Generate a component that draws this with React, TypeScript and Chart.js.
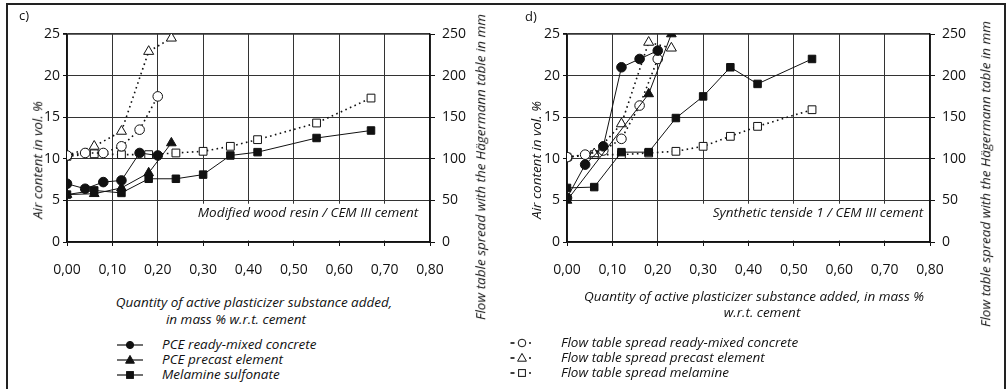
import React, { useEffect, useRef } from "react";
import { Chart, registerables } from "chart.js";

Chart.register(...registerables);

type Pt = [number, number];

// ---------- axes ----------
const xTickValues = [0, 0.1, 0.2, 0.3, 0.4, 0.5, 0.6, 0.7, 0.8];
const airTicks = [0, 5, 10, 15, 20, 25];
const flowTicks = [0, 50, 100, 150, 200, 250];

// ---------- panel c: Modified wood resin / CEM III cement ----------
// air content in vol. % (left axis)
const cPceReady: Pt[] = [[0, 7.0], [0.04, 6.4], [0.08, 7.2], [0.12, 7.4], [0.16, 10.7], [0.2, 10.4]];
const cPcePrecast: Pt[] = [[0, 5.7], [0.06, 5.8], [0.12, 6.5], [0.18, 8.3], [0.23, 11.9]];
const cMelamine: Pt[] = [[0, 5.7], [0.06, 6.2], [0.12, 5.9], [0.18, 7.6], [0.24, 7.6], [0.3, 8.1], [0.36, 10.4], [0.42, 10.8], [0.55, 12.5], [0.67, 13.4]];
// flow table spread in mm (right axis)
const cFlowReady: Pt[] = [[0, 104], [0.04, 107], [0.08, 107], [0.12, 115], [0.16, 135], [0.2, 175]];
const cFlowPrecast: Pt[] = [[0, 104], [0.06, 115], [0.12, 133], [0.18, 229], [0.23, 245]];
const cFlowMelamine: Pt[] = [[0, 103], [0.06, 106], [0.12, 105], [0.18, 105], [0.24, 107], [0.3, 109], [0.36, 115], [0.42, 123], [0.55, 143], [0.67, 173]];

// ---------- panel d: Synthetic tenside 1 / CEM III cement ----------
const dPceReady: Pt[] = [[0, 5.3], [0.04, 9.3], [0.08, 11.5], [0.12, 21.0], [0.16, 22.0], [0.2, 23.0]];
const dPcePrecast: Pt[] = [[0, 5.0], [0.18, 17.8], [0.23, 25.0]];
const dMelamine: Pt[] = [[0, 6.5], [0.06, 6.6], [0.12, 10.8], [0.18, 10.8], [0.24, 14.9], [0.3, 17.5], [0.36, 21.0], [0.42, 19.0], [0.54, 22.0]];
const dFlowReady: Pt[] = [[0, 102], [0.04, 105], [0.08, 110], [0.12, 124], [0.16, 164], [0.2, 220]];
const dFlowPrecast: Pt[] = [[0, 102], [0.06, 106], [0.12, 142], [0.18, 240], [0.23, 233]];
const dFlowMelamine: Pt[] = [[0, 102], [0.06, 105], [0.12, 105], [0.18, 107], [0.24, 109], [0.3, 115], [0.36, 127], [0.42, 139], [0.54, 159]];

const INK = "#111111";
const GRID = "#333333";
const FONT = "'Open Sans', 'DejaVu Sans', sans-serif";
const ITALIC_SIZE = 13.5;

const noteBox = {
  id: "noteBox",
  beforeDatasetsDraw(chart: any, _args: any, opts: any) {
    const { ctx, scales } = chart;
    const x = scales.x;
    const y = scales.y;
    const l = x.getPixelForValue(opts.fromX);
    const r = x.getPixelForValue(x.max) - 1.5;
    const t = y.getPixelForValue(opts.topY);
    const b = y.getPixelForValue(0) - 1.5;
    ctx.save();
    ctx.fillStyle = "#ffffff";
    ctx.fillRect(l, t, r - l, b - t);
    ctx.font = `italic ${ITALIC_SIZE}px ${FONT}`;
    ctx.fillStyle = INK;
    ctx.textAlign = "right";
    ctx.textBaseline = "middle";
    ctx.fillText(opts.text, x.getPixelForValue(opts.textX), y.getPixelForValue(opts.textY));
    ctx.restore();
  },
};

function toXY(d: Pt[]) {
  return d.map(([x, y]) => ({ x, y }));
}

function solid(label: string, d: Pt[], style: string, radius: number) {
  return {
    label,
    data: toXY(d),
    yAxisID: "y",
    showLine: true,
    borderColor: INK,
    borderWidth: 1,
    backgroundColor: INK,
    pointStyle: style,
    pointRadius: radius,
    pointBackgroundColor: INK,
    pointBorderColor: INK,
    pointBorderWidth: 1,
    tension: 0,
  };
}

function dotted(label: string, d: Pt[], style: string, radius: number) {
  return {
    label,
    data: toXY(d),
    yAxisID: "y1",
    showLine: true,
    borderColor: INK,
    borderWidth: 1.6,
    borderDash: [1.6, 3.4],
    backgroundColor: "#ffffff",
    pointStyle: style,
    pointRadius: radius,
    pointBackgroundColor: "#ffffff",
    pointBorderColor: INK,
    pointBorderWidth: 1,
    tension: 0,
  };
}

function makeConfig(sets: Pt[][], note: { text: string; fromX: number; topY: number; textX: number; textY: number }) {
  const [pr, pp, mel, fr, fp, fm] = sets;
  const tickFont = { family: FONT, size: 14 };
  return {
    type: "scatter" as const,
    data: {
      datasets: [
        solid("PCE ready-mixed concrete", pr, "circle", 4.8),
        solid("PCE precast element", pp, "triangle", 5.6),
        solid("Melamine sulfonate", mel, "rect", 5.3),
        dotted("Flow table spread ready-mixed concrete", fr, "circle", 4.8),
        dotted("Flow table spread precast element", fp, "triangle", 5.8),
        dotted("Flow table spread melamine", fm, "rect", 5.5),
      ],
    },
    options: {
      animation: false,
      responsive: false,
      maintainAspectRatio: false,
      devicePixelRatio: 1,
      layout: { padding: { top: 34, left: 0, right: 0, bottom: 0 } },
      plugins: {
        legend: { display: false },
        tooltip: { enabled: false },
        title: { display: false },
        noteBox: note,
      },
      scales: {
        x: {
          type: "linear",
          min: 0,
          max: 0.8,
          afterBuildTicks: (s: any) => {
            s.ticks = xTickValues.map((v) => ({ value: v }));
          },
          afterFit: (s: any) => {
            s.height = 48;
          },
          ticks: {
            autoSkip: false,
            maxRotation: 0,
            padding: 16,
            color: INK,
            font: tickFont,
            callback: (v: any) => Number(v).toFixed(2).replace(".", ","),
          },
          grid: { color: GRID, lineWidth: 1, tickLength: 4, tickColor: INK },
          border: { color: INK, width: 1.6 },
        },
        y: {
          type: "linear",
          position: "left",
          min: 0,
          max: 25,
          afterBuildTicks: (s: any) => {
            s.ticks = airTicks.map((v) => ({ value: v }));
          },
          afterFit: (s: any) => {
            s.width = 67;
          },
          ticks: { padding: 3, color: INK, font: tickFont },
          grid: {
            color: GRID,
            lineWidth: (c: any) => (c.tick && c.tick.value === 25 ? 1.8 : 1),
            tickLength: 4,
            tickColor: INK,
          },
          border: { color: INK, width: 1.6 },
        },
        y1: {
          type: "linear",
          position: "right",
          min: 0,
          max: 250,
          afterBuildTicks: (s: any) => {
            s.ticks = flowTicks.map((v) => ({ value: v }));
          },
          afterFit: (s: any) => {
            s.width = 70;
          },
          ticks: { padding: 7, color: INK, font: tickFont },
          grid: { drawOnChartArea: false, tickLength: 5, color: INK, tickColor: INK },
          border: { color: INK, width: 1.4 },
        },
      },
    },
    plugins: [noteBox],
  };
}

function Panel({ sets, note, left }: { sets: Pt[][]; note: any; left: number }) {
  const ref = useRef<HTMLCanvasElement | null>(null);
  useEffect(() => {
    if (!ref.current) return;
    const chart = new Chart(ref.current, makeConfig(sets, note) as any);
    return () => chart.destroy();
  }, []);
  return (
    <canvas
      ref={ref}
      width={500}
      height={290}
      style={{ position: "absolute", left, top: 0, width: 500, height: 290 }}
    />
  );
}

const italic: React.CSSProperties = {
  fontFamily: FONT,
  fontStyle: "italic",
  fontSize: ITALIC_SIZE,
  color: INK,
  whiteSpace: "nowrap",
  lineHeight: 1,
};

function Txt({ x, y, children, anchor = "center", style }: any) {
  const tx = anchor === "left" ? "0" : "-50%";
  return (
    <div
      style={{
        position: "absolute",
        left: x,
        top: y,
        transform: `translate(${tx}, -50%)`,
        ...italic,
        ...style,
      }}
    >
      {children}
    </div>
  );
}

function RotTxt({ x, y, children }: any) {
  return (
    <div
      style={{
        position: "absolute",
        left: x,
        top: y,
        transform: "translate(-50%, -50%) rotate(-90deg)",
        ...italic,
      }}
    >
      {children}
    </div>
  );
}

function Sym({ style, open, dottedLine }: { style: string; open?: boolean; dottedLine?: boolean }) {
  const fill = open ? "#fff" : INK;
  const cx = dottedLine ? 12 : 13;
  let marker: any = null;
  if (style === "circle") marker = <circle cx={cx} cy={6} r={open ? 3.8 : 3.6} fill={fill} stroke={INK} strokeWidth={1} />;
  if (style === "triangle") marker = <polygon points={`${cx},1.4 ${cx + 4.4},9.2 ${cx - 4.4},9.2`} fill={fill} stroke={INK} strokeWidth={1} />;
  if (style === "rect") marker = <rect x={cx - 3.4} y={2.6} width={6.8} height={6.8} fill={fill} stroke={INK} strokeWidth={1} />;
  return (
    <svg width={28} height={12} style={{ display: "block" }}>
      {dottedLine ? (
        <>
          <line x1={0.5} y1={6} x2={4.5} y2={6} stroke={INK} strokeWidth={1.6} />
          <line x1={19} y1={6} x2={21} y2={6} stroke={INK} strokeWidth={1.4} />
        </>
      ) : (
        <line x1={0} y1={6} x2={26} y2={6} stroke={INK} strokeWidth={1.2} />
      )}
      {marker}
    </svg>
  );
}

function LegendRow({ x, y, tx, label, style, open, dottedLine }: any) {
  return (
    <>
      <div style={{ position: "absolute", left: x, top: y - 6 }}>
        <Sym style={style} open={open} dottedLine={dottedLine} />
      </div>
      <Txt x={tx} y={y} anchor="left">{label}</Txt>
    </>
  );
}

export default function App() {
  useEffect(() => {
    document.body.style.margin = "0";
  }, []);
  const cSets = [cPceReady, cPcePrecast, cMelamine, cFlowReady, cFlowPrecast, cFlowMelamine];
  const dSets = [dPceReady, dPcePrecast, dMelamine, dFlowReady, dFlowPrecast, dFlowMelamine];
  return (
    <div style={{ position: "fixed", left: 0, top: 0, width: 1006, height: 389, background: "#fff", overflow: "hidden" }}>
      <div style={{ position: "absolute", left: 6, top: 3, width: 996, height: 400, border: "2px solid #222" }} />
      <Panel
        sets={cSets}
        left={0}
        note={{ text: "Modified wood resin / CEM III cement", fromX: 0.27, topY: 4.6, textX: 0.774, textY: 3.5 }}
      />
      <Panel
        sets={dSets}
        left={500}
        note={{ text: "Synthetic tenside 1 / CEM III cement", fromX: 0.27, topY: 4.6, textX: 0.785, textY: 3.5 }}
      />

      {/* panel labels */}
      <Txt x={24} y={15} style={{ fontStyle: "normal", fontSize: 13 }}>c)</Txt>
      <Txt x={531} y={16} style={{ fontStyle: "normal", fontSize: 13 }}>d)</Txt>

      {/* axis titles panel c */}
      <RotTxt x={38} y={160}>Air content in vol. %</RotTxt>
      <RotTxt x={481} y={167}>Flow table spread with the Hägermann table in mm</RotTxt>
      <Txt x={254} y={303}>Quantity of active plasticizer substance added,</Txt>
      <Txt x={236} y={320}>in mass % w.r.t. cement</Txt>

      {/* axis titles panel d */}
      <RotTxt x={537} y={160}>Air content in vol. %</RotTxt>
      <RotTxt x={986} y={174}>Flow table spread with the Hägermann table in mm</RotTxt>
      <Txt x={754} y={297}>Quantity of active plasticizer substance added, in mass %</Txt>
      <Txt x={762} y={313}>w.r.t. cement</Txt>

      {/* legend panel c */}
      <LegendRow x={117} y={345} tx={162} label="PCE ready-mixed concrete" style="circle" />
      <LegendRow x={117} y={360} tx={162} label="PCE precast element" style="triangle" />
      <LegendRow x={117} y={375} tx={162} label="Melamine sulfonate" style="rect" />

      {/* legend panel d */}
      <LegendRow x={510} y={343} tx={561} label="Flow table spread ready-mixed concrete" style="circle" open dottedLine />
      <LegendRow x={510} y={358} tx={561} label="Flow table spread precast element" style="triangle" open dottedLine />
      <LegendRow x={510} y={373} tx={561} label="Flow table spread melamine" style="rect" open dottedLine />
    </div>
  );
}
